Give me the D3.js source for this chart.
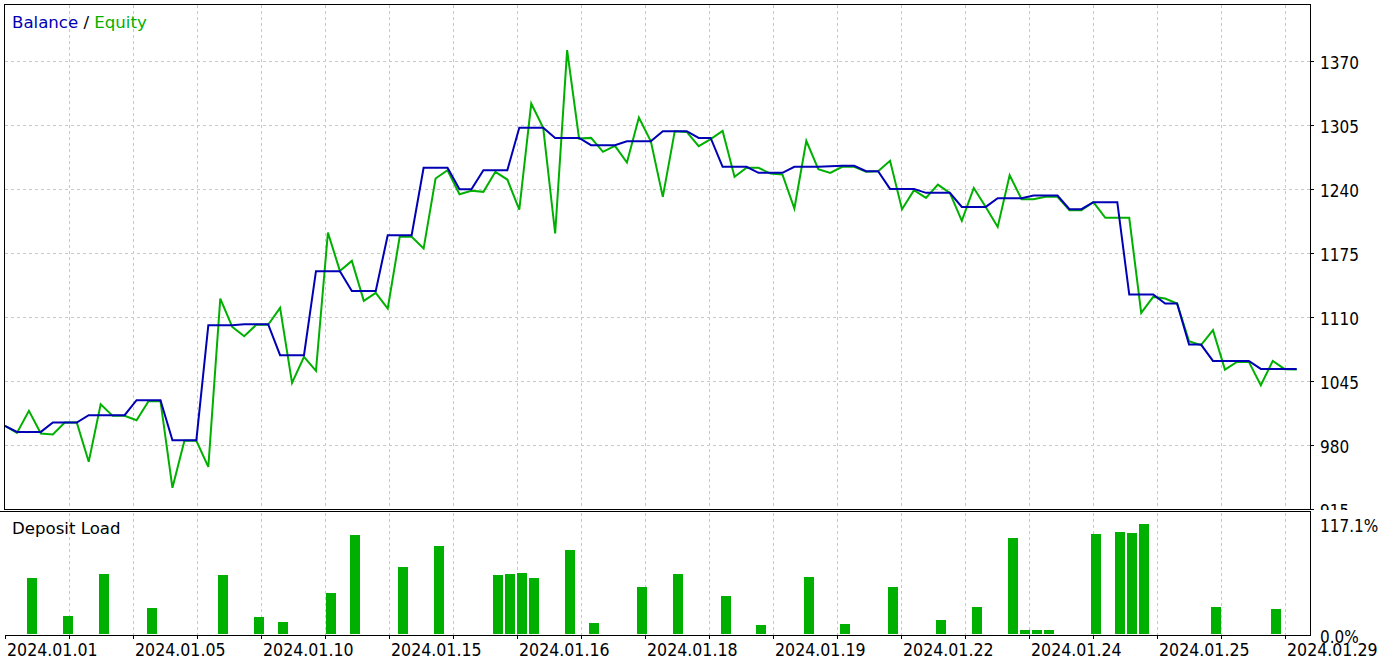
<!DOCTYPE html>
<html><head><meta charset="utf-8">
<script src="https://cdn.jsdelivr.net/npm/d3@7"></script>
<style>
html,body{margin:0;padding:0;background:#fff;}
svg{display:block;}
text{font-family:'DejaVu Sans Condensed','DejaVu Sans',sans-serif;font-stretch:condensed;font-size:17px;fill:#000;}
text.word{font-family:'DejaVu Sans',sans-serif;font-stretch:normal;font-size:16.6px;}
text.xl{font-size:17.6px;}
</style></head>
<body>
<svg id="chart" width="1395" height="664"></svg>
<script>
// ---- data ----
const balance = [998.9,992.8,992.8,992.8,1002.3,1002.3,1002.3,1009.8,1009.8,1009.8,
1009.8,1025,1025,1025,984.4,984.4,984.4,1101.2,1101.2,1101.2,
1102.2,1102.2,1102.2,1070.7,1070.7,1070.7,1156,1156,1156,1136,
1136,1136,1192.6,1192.6,1192.6,1261,1261,1261,1239.3,1239.3,
1258.6,1258.6,1258.6,1301.6,1301.6,1301.6,1291.4,1291.4,1291.4,1284,
1284,1284,1288,1288,1288,1298.2,1298.2,1298.2,1291.4,1291.4,
1262,1262,1262,1255.9,1255.9,1255.9,1262,1262,1262,1262.6,
1263,1263,1257.6,1257.6,1239.6,1239.6,1239.6,1235.6,1235.6,1235.6,
1221.3,1221.3,1221.3,1230.2,1230.2,1230.2,1232.9,1232.9,1232.9,1219,
1219,1226.1,1226.1,1226.1,1132.3,1132.3,1132.3,1123.2,1123.2,1081.5,
1081.5,1064.9,1064.9,1064.9,1064.9,1056.8,1056.8,1056.8,1056.8];

const equity = [998.9,991.8,1014.2,991.2,990.2,1002.3,1002.3,962.4,1020.9,1009.1,
1009.1,1004.7,1024,1024,936,983.7,983.7,957.3,1128.2,1099.5,
1090,1101.5,1101.5,1118.8,1042.6,1069,1054.8,1195.3,1156.3,1166.5,
1125.9,1134,1118.1,1190.9,1190.9,1179,1250.1,1258.6,1234.2,1237.6,
1236.6,1256.9,1249.1,1218.6,1326.3,1301.6,1194.3,1380.5,1290.7,1291.4,
1277.2,1283.3,1266.4,1312.1,1288,1231.5,1298.2,1297.5,1283,1290.1,
1298.5,1251.8,1261,1261,1255.2,1254.2,1219.7,1288.4,1259.6,1255.9,
1262,1262,1256.9,1257.6,1268.1,1219,1238.3,1230.5,1244,1235.6,
1207.1,1240.6,1221.3,1201,1253.5,1229.1,1229.1,1231.5,1231.5,1218,
1218,1226.1,1210.2,1210.2,1210.2,1113.7,1129.9,1128.2,1123.2,1084.9,
1080.9,1096.1,1056.1,1063.9,1063.9,1040.2,1064.9,1056.5,1056.1];

const depositLoad = [0,0,59.6,0,0,19.2,0,0,63.9,0,
0,0,27.7,0,0,0,0,0,62.8,0,
0,18.1,0,12.8,0,0,0,43.7,0,105.4,
0,0,0,71.3,0,0,93.7,0,0,0,
0,62.8,63.9,65,59.6,0,0,89.4,0,11.7,
0,0,0,50,0,0,63.9,0,0,0,
40.5,0,0,9.6,0,0,0,60.7,0,0,
10.6,0,0,0,50,0,0,0,14.9,0,
0,28.7,0,0,102.2,4.3,4.3,4.3,0,0,
0,106.5,0,108.6,107.5,117.1,0,0,0,0,
0,28.7,0,0,0,0,26.6,0,0];

const valueTicks = [915,980,1045,1110,1175,1240,1305,1370];
const dateLabels = ["2024.01.01","2024.01.05","2024.01.10","2024.01.15","2024.01.16",
  "2024.01.18","2024.01.19","2024.01.22","2024.01.24","2024.01.25","2024.01.29"];
const loadLabels = ["117.1%","0.0%"];
const loadMax = 117.1;

// ---- layout ----
const svg = d3.select("#chart");
const L = 4.5, R = 1310.5, T = 4.5, B1 = 509.5, T2 = 511.5, B2 = 635.5;
const gridStep = 64;
const gridX = d3.range(0, 21).map(k => 5.5 + gridStep * k);

const x = d3.scaleLinear().domain([0, balance.length - 1]).range([5, 1296.7]);
const y = d3.scaleLinear().domain([915, 1370]).range([508.5, 60.5]);
const yl = d3.scaleLinear().domain([0, loadMax]).range([634, 524]);

const blue = "#0000b4", green = "#00b000", gridC = "#c8c8c8";

// clip
const defs = svg.append("defs");
defs.append("clipPath").attr("id","topclip").append("rect")
  .attr("x", 5).attr("y", 5).attr("width", R - 5.5).attr("height", B1 - 5.5);
defs.append("clipPath").attr("id","lblclip").append("rect")
  .attr("x", 1311).attr("y", 0).attr("width", 90).attr("height", 510);

// ---- top panel grid ----
const g = svg.append("g").attr("shape-rendering","crispEdges");
g.selectAll("line.hg").data(valueTicks.filter(v => v > 915)).join("line")
  .attr("x1", 5).attr("x2", R).attr("y1", d => Math.round(y(d)) + 0.5).attr("y2", d => Math.round(y(d)) + 0.5)
  .attr("stroke", gridC).attr("stroke-dasharray","3,3");
g.selectAll("line.vg").data(gridX.slice(1)).join("line")
  .attr("x1", d => d).attr("x2", d => d).attr("y1", T).attr("y2", B1)
  .attr("stroke", gridC).attr("stroke-dasharray","3,3");
// bottom panel vertical grid
g.selectAll("line.vg2").data(gridX.slice(1)).join("line")
  .attr("x1", d => d).attr("x2", d => d).attr("y1", T2 + 1).attr("y2", B2 - 1)
  .attr("stroke", gridC).attr("stroke-dasharray","3,3");

// ---- lines ----
const lineGen = arr => d3.line().x((d,i) => x(i)).y(d => y(d))(arr);
const lines = svg.append("g").attr("clip-path","url(#topclip)");
lines.append("path").attr("d", lineGen(equity)).attr("fill","none")
  .attr("stroke", green).attr("stroke-width", 2).attr("stroke-linejoin","miter");
lines.append("path").attr("d", lineGen(balance)).attr("fill","none")
  .attr("stroke", blue).attr("stroke-width", 2).attr("stroke-linejoin","miter");

// ---- bars ----
svg.append("g").attr("shape-rendering","crispEdges")
  .selectAll("rect").data(depositLoad.map((v,i)=>({v,i})).filter(d => d.v > 0)).join("rect")
  .attr("x", d => Math.round(x(d.i)) - 2).attr("width", 10)
  .attr("y", d => Math.round(yl(d.v))).attr("height", d => 634 - Math.round(yl(d.v)))
  .attr("fill", green);

// ---- frames ----
const f = svg.append("g").attr("shape-rendering","crispEdges").attr("stroke","#000").attr("fill","none");
f.append("rect").attr("x", L).attr("y", T).attr("width", R - L).attr("height", B1 - T);
f.append("line").attr("x1", 0).attr("x2", R).attr("y1", T2).attr("y2", T2);
f.append("line").attr("x1", R).attr("x2", R).attr("y1", T2).attr("y2", B2);
f.append("line").attr("x1", 5).attr("x2", R).attr("y1", B2).attr("y2", B2);
// x ticks
f.selectAll("line.xt").data(gridX).join("line")
  .attr("x1", d => d).attr("x2", d => d).attr("y1", B2).attr("y2", B2 + 3);
// y ticks
f.selectAll("line.yt").data(valueTicks).join("line")
  .attr("x1", R).attr("x2", R + 3).attr("y1", d => Math.round(y(d)) + 0.5).attr("y2", d => Math.round(y(d)) + 0.5);

// ---- labels ----
svg.append("g").attr("clip-path","url(#lblclip)")
  .selectAll("text").data(valueTicks).join("text")
  .attr("x", 1320).attr("y", d => y(d) + 8).text(d => d);

svg.append("text").attr("x", 1320).attr("y", 532).text(loadLabels[0]);
svg.append("text").attr("x", 1320).attr("y", 643).text(loadLabels[1]);

svg.selectAll("text.xl").data(dateLabels).join("text").attr("class","xl")
  .attr("x", (d,i) => gridX[2*i] + 1.5).attr("y", 656).text(d => d);

const title = svg.append("text").attr("class","word").attr("x", 12).attr("y", 27.5);
title.append("tspan").style("fill", blue).text("Balance");
title.append("tspan").style("fill", "#000").text(" / ");
title.append("tspan").style("fill", green).text("Equity");

svg.append("text").attr("class","word").attr("x", 12).attr("y", 534).text("Deposit Load");
</script>
</body></html>
